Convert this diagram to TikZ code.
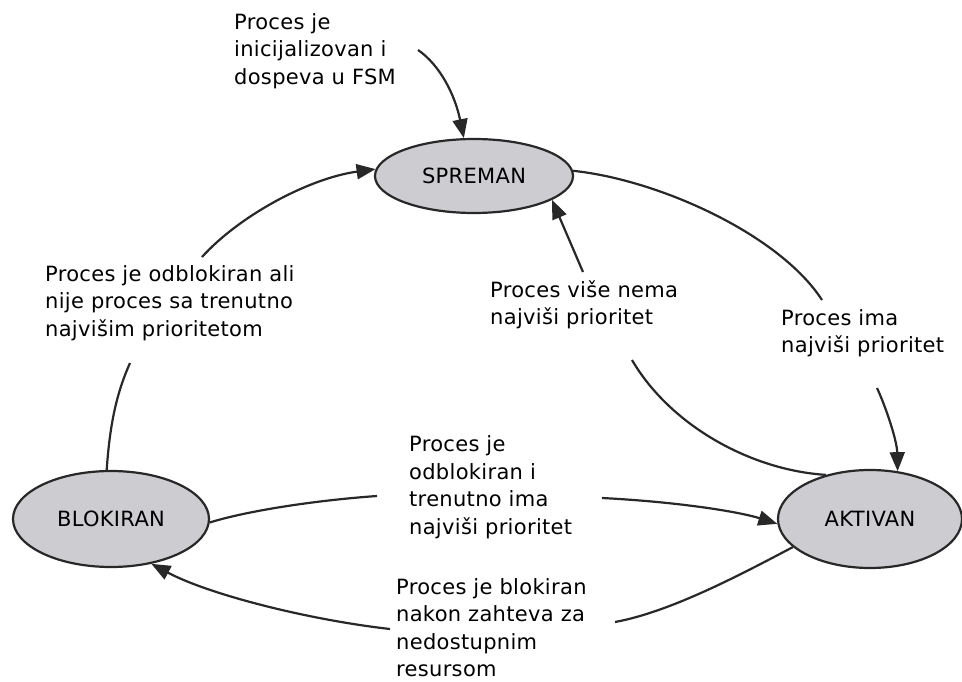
\documentclass[tikz,border=0pt]{standalone}
\usepackage{fontspec}
\setmainfont[LetterSpace=1.5]{DejaVu Sans}
\usetikzlibrary{arrows.meta,shapes.geometric}
\definecolor{statefill}{RGB}{204,204,209}
\definecolor{linecol}{RGB}{40,40,40}
\begin{document}
\begin{tikzpicture}[x=1pt,y=-1pt,
  state/.style={ellipse,draw=linecol,line width=2.2pt,fill=statefill,inner sep=0pt,
    font=\fontsize{21}{27.5}\selectfont},
  lbl/.style={anchor=north west,inner sep=0pt,align=left,
    font=\fontsize{21}{27.5}\selectfont},
  conn/.style={draw=linecol,line width=2.2pt},
  arr/.style={conn,-{Triangle[length=19pt,width=15pt]}}]
\useasboundingbox (0,0) rectangle (962,682);
\fill[white] (0,0) rectangle (962,682);
% states
\node[state,minimum width=198pt,minimum height=74pt] (sp) at (474,176) {SPREMAN};
\node[state,minimum width=196pt,minimum height=96pt] (bl) at (111,519) {BLOKIRAN};
\node[state,minimum width=184pt,minimum height=98pt] (ak) at (870,519) {AKTIVAN};
% labels (baseline = top + 19.25)
\node[lbl] (t1) at (234,9.75) {\strut Proces je\\inicijalizovan i\\dospeva u FSM};
\node[lbl] (t2) at (45,262) {\strut Proces je odblokiran ali\\nije proces sa trenutno\\najvišim prioritetom};
\node[lbl] (t3) at (490,278) {\strut Proces više nema\\najviši prioritet};
\node[lbl] (t4) at (781,306) {\strut Proces ima\\najviši prioritet};
\node[lbl] (t5) at (409,432.5) {\strut Proces je\\odblokiran i\\trenutno ima\\najviši prioritet};
\node[lbl] (t6) at (396,575) {\strut Proces je blokiran\\nakon zahteva za\\nedostupnim\\resursom};
% free ends of the connectors
\coordinate (c0) at (418,50);
\coordinate (b1) at (130,363);
\coordinate (b2) at (202,257);
\coordinate (c1) at (822,300);
\coordinate (c2) at (877,388);
\coordinate (d1) at (632,360);
\coordinate (d2) at (583,272);
\coordinate (e1) at (377,496);
\coordinate (e2) at (602,498);
\coordinate (f1) at (615,622);
\coordinate (f2) at (390,629);
% init
\draw[arr] (c0) .. controls (440,65) and (455,95) .. (sp.105);
% BLOKIRAN -> SPREMAN
\draw[conn] (bl.95) .. controls (110,420) and (118,390) .. (b1);
\draw[arr] (b2) .. controls (240,215) and (310,178) .. (sp.176);
% SPREMAN -> AKTIVAN
\draw[conn] (sp.3) .. controls (660,180) and (780,235) .. (c1);
\draw[arr] (c2) .. controls (885,405) and (897,440) .. (ak.60);
% AKTIVAN -> SPREMAN
\draw[conn] (ak.135) .. controls (750,470) and (670,425) .. (d1);
\draw[arr] (d2) -- (sp.-17);
% BLOKIRAN -> AKTIVAN
\draw[conn] (bl.-2) .. controls (250,510) and (320,500) .. (e1);
\draw[arr] (e2) .. controls (680,502) and (740,512) .. (ak.183);
% AKTIVAN -> BLOKIRAN
\draw[conn] (ak.200) .. controls (740,575) and (670,612) .. (f1);
\draw[arr] (f2) .. controls (310,620) and (210,595) .. (bl.-48);
\end{tikzpicture}
\end{document}
